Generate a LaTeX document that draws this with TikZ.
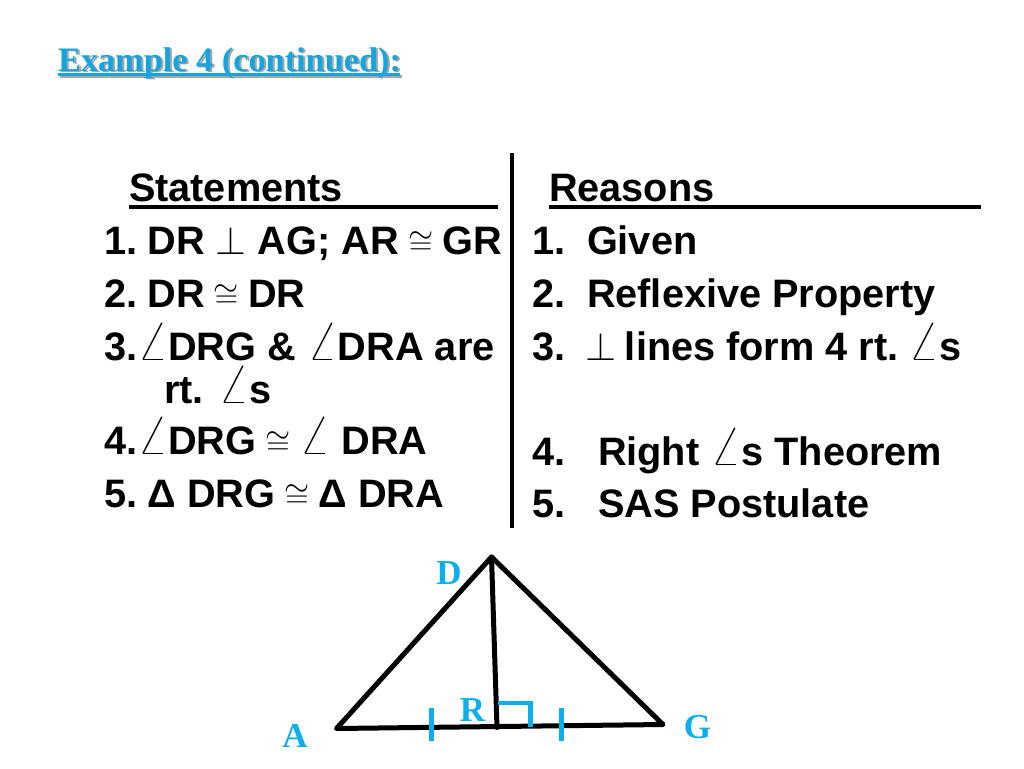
\documentclass[tikz,border=0pt]{standalone}
\usepackage{graphicx}
\usepackage{fontspec}
\setmainfont{Liberation Sans}
\newfontfamily\titlefont{Liberation Serif}
\definecolor{skyc}{RGB}{20,165,225}
\definecolor{labc}{RGB}{10,175,235}
\definecolor{shadc}{RGB}{165,165,170}
\newcommand{\pp}{\scalebox{1.6}{$\perp$}}
\newcommand{\cg}{\kern-2pt\scalebox{1.3}{$\cong$}\kern-2pt}
\newcommand{\ang}{\scalebox{1.6}{$\angle$}}
\tikzset{
  txtline/.style={anchor=base west,inner sep=0pt,outer sep=0pt,font=\fontsize{39.7}{44}\selectfont\bfseries,text=black},
  ttl/.style={anchor=base west,inner sep=0pt,outer sep=0pt,font=\fontsize{34.3}{38}\selectfont\titlefont\bfseries},
  lab/.style={inner sep=0pt,outer sep=0pt,text=labc,font=\fontsize{35}{38}\selectfont\titlefont\bfseries},
  hrule/.style={line width=3.2pt,black},
  tri/.style={line width=5pt,black,line cap=round,line join=round},
  cmark/.style={line width=4.4pt,labc}
}
\begin{document}
\begin{tikzpicture}[x=1pt,y=-1pt]
\useasboundingbox (0,0) rectangle (1024,768);
% title
\coordinate (us1) at (60,76.5); \coordinate (ue1) at (402,76.5);
\coordinate (u1) at (58,74.5); \coordinate (u2) at (400,74.5);
\draw[line width=2.5pt,shadc] (us1) -- (ue1);
\node[ttl,text=shadc] (titleshadow) at (60,72.5) {Example 4 (continued):};
\draw[line width=2.5pt,skyc] (u1) -- (u2);
\node[ttl,text=skyc] (title) at (58,71) {Example 4 (continued):};
% divider and rules
\coordinate (v1) at (512,153); \coordinate (v2) at (512,528);
\draw[line width=3.6pt,black] (v1) -- (v2);
\coordinate (s1) at (129,207); \coordinate (s2) at (498,207);
\coordinate (r1) at (549,207); \coordinate (r2) at (981,207);
\draw[hrule] (s1) -- (s2);
\draw[hrule] (r1) -- (r2);
% statements
\node[txtline] (st) at (129,201) {Statements};
\node[txtline] (st1) at (104,254) {1.\hspace{10.5pt}DR \pp\ AG; AR \cg\ GR};
\node[txtline] (st2) at (104,307) {2.\hspace{10.5pt}DR \cg\ DR};
\node[txtline] (st3) at (104,360) {3.\ang DRG \& \ang DRA are};
\node[txtline] (st3b) at (164,403) {rt. \ang s};
\node[txtline] (st4) at (104,454) {4.\ang DRG \cg\ \ang\ DRA};
\node[txtline] (st5) at (104,507) {5.\hspace{10.5pt}Δ DRG \cg\ Δ DRA};
% reasons
\node[txtline] (re) at (549,201) {Reasons};
\node[txtline] (n1) at (532,254) {1.}; \node[txtline] (re1) at (587,254) {Given};
\node[txtline] (n2) at (532,307) {2.}; \node[txtline] (re2) at (587,307) {Reflexive Property};
\node[txtline] (n3) at (532,360) {3.}; \node[txtline] (re3) at (585,360) {\pp\hspace{9pt}lines form 4 rt.\hspace{10pt}\ang s};
\node[txtline] (n4) at (532,465) {4.}; \node[txtline] (re4) at (598,465) {Right \ang s Theorem};
\node[txtline] (n5) at (532,517) {5.}; \node[txtline] (re5) at (598,517) {SAS Postulate};
% triangle
\coordinate (A) at (336.5,728.5); \coordinate (D) at (491.5,557);
\coordinate (G) at (663,724.5); \coordinate (R) at (497,727.5);
\draw[tri] (A) -- (D) -- (G) -- cycle;
\draw[tri] (D) -- (R);
\coordinate (t1a) at (431.5,708); \coordinate (t1b) at (431.5,741);
\coordinate (t2a) at (561.5,708); \coordinate (t2b) at (561.5,741);
\draw[cmark] (t1a) -- (t1b);
\draw[cmark] (t2a) -- (t2b);
\coordinate (q1) at (497.5,703); \coordinate (q2) at (530.5,703); \coordinate (q3) at (530.5,727);
\draw[cmark] (q1) -- (q2) -- (q3);
\node[lab] (lD) at (449,573.5) {D};
\node[lab] (lR) at (472.5,710) {R};
\node[lab] (lA) at (295,736) {A};
\node[lab] (lG) at (697.5,727) {G};
\end{tikzpicture}
\end{document}
